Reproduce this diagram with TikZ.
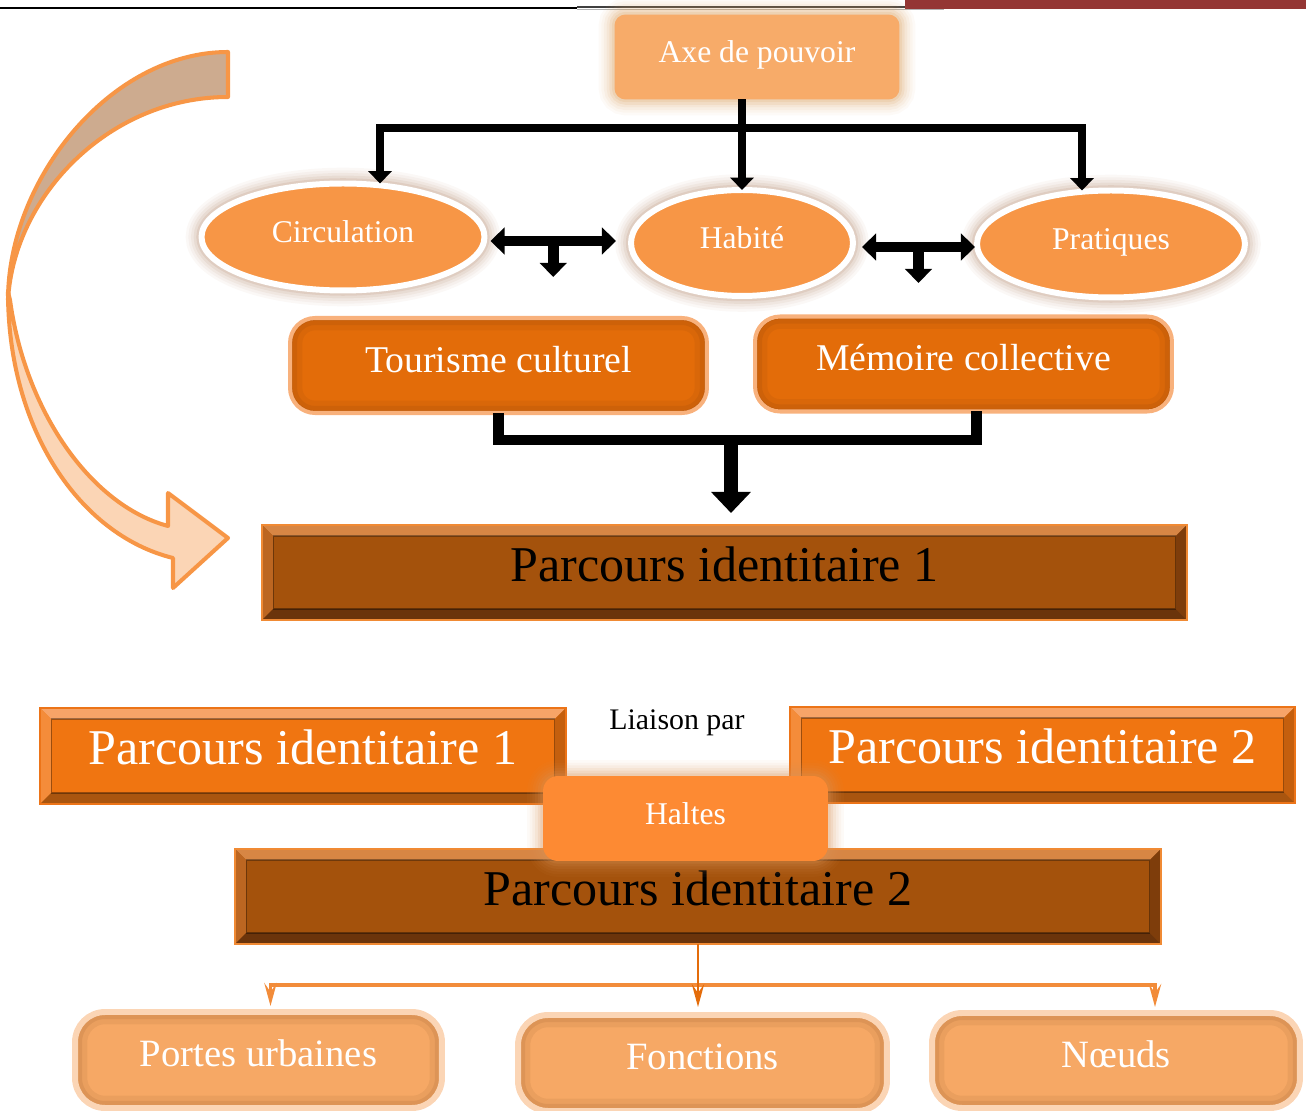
\documentclass[tikz,border=0pt]{standalone}
\usepackage{fontspec}
\setmainfont{Liberation Serif}
\usetikzlibrary{arrows.meta,shapes.geometric,calc}
\definecolor{axefill}{HTML}{F7AB69}
\definecolor{axeglow}{HTML}{D9A060}
\definecolor{ellfill}{HTML}{F79646}
\definecolor{ellglow}{HTML}{A87656}
\definecolor{tourfill}{HTML}{E36C09}
\definecolor{tourbord}{HTML}{F8B17C}
\definecolor{brmain}{HTML}{A4520C}
\definecolor{brtop}{HTML}{D78644}
\definecolor{brleft}{HTML}{BC6621}
\definecolor{brright}{HTML}{7E3D0B}
\definecolor{brbot}{HTML}{6B340B}
\definecolor{brbord}{HTML}{F08A34}
\definecolor{ormain}{HTML}{F07511}
\definecolor{ortop}{HTML}{F7A468}
\definecolor{orleft}{HTML}{F48C3A}
\definecolor{orright}{HTML}{C45F0E}
\definecolor{orbot}{HTML}{A9550F}
\definecolor{orbord}{HTML}{EC7418}
\definecolor{haltfill}{HTML}{FD8A33}
\definecolor{haltglow}{HTML}{D9955A}
\definecolor{botfill}{HTML}{F6A865}
\definecolor{botbord}{HTML}{FBD5B5}
\definecolor{arrtan}{HTML}{CDAB8F}
\definecolor{arrpeach}{HTML}{FBD5B5}
\definecolor{arrline}{HTML}{F79646}
\definecolor{hdrred}{HTML}{943634}
\definecolor{conor}{HTML}{F28C3A}
\definecolor{conord}{HTML}{E46C0A}
\definecolor{shadowbr}{HTML}{5A2E0A}
\tikzset{
  fA/.style={font=\fontsize{18}{20}\selectfont, text height=12.6pt, text depth=6.3pt},
  fB/.style={font=\fontsize{21.5}{24}\selectfont, text height=15pt, text depth=7.5pt},
  fC/.style={font=\fontsize{28.5}{32}\selectfont, text height=20pt, text depth=10pt},
  fD/.style={font=\fontsize{22}{25}\selectfont, text height=15.4pt, text depth=7.7pt},
  fE/.style={font=\fontsize{17}{20}\selectfont, text height=12pt, text depth=6pt},
  glowA/.style={preaction={draw=#1, line width=18pt, opacity=.05},
                preaction={draw=#1, line width=15pt, opacity=.06},
                preaction={draw=#1, line width=12pt, opacity=.08},
                preaction={draw=#1, line width=9pt, opacity=.10},
                preaction={draw=#1, line width=6pt, opacity=.14},
                preaction={draw=#1, line width=3pt, opacity=.18}},
  innershadow/.style={path picture={
      \draw[line width=14pt, shadowbr, opacity=.07, rounded corners=#1]
        (path picture bounding box.north west) rectangle (path picture bounding box.south east);
      \draw[line width=8pt, shadowbr, opacity=.09, rounded corners=#1]
        (path picture bounding box.north west) rectangle (path picture bounding box.south east);
      \draw[line width=3pt, shadowbr, opacity=.12, rounded corners=#1]
        (path picture bounding box.north west) rectangle (path picture bounding box.south east);}},
  axebox/.style={rectangle, rounded corners=0.22cm, fill=axefill, text=white, fA, glowA=axeglow},
  ell/.style={ellipse, fill=ellfill, draw=white, line width=3.4pt, text=white, fA, glowA=ellglow},
  tourbox/.style={rectangle, rounded corners=0.5cm, fill=tourfill, draw=tourbord, line width=2.3pt,
      minimum width=8.34cm, minimum height=1.9cm, text=white, fB, innershadow=0.5cm},
  bevel/.style n args={6}{rectangle, fill=#1, draw=#6, line width=1.5pt,
    path picture={
      \coordinate (bNW) at (path picture bounding box.north west);
      \coordinate (bNE) at (path picture bounding box.north east);
      \coordinate (bSW) at (path picture bounding box.south west);
      \coordinate (bSE) at (path picture bounding box.south east);
      \fill[#2] (bNW) -- (bNE) -- ([shift={(-11,11)}]bNE) -- ([shift={(11,11)}]bNW) -- cycle;
      \fill[#3] (bNW) -- ([shift={(11,11)}]bNW) -- ([shift={(11,-11)}]bSW) -- (bSW) -- cycle;
      \fill[#4] (bNE) -- ([shift={(-11,11)}]bNE) -- ([shift={(-11,-11)}]bSE) -- (bSE) -- cycle;
      \fill[#5] (bSW) -- ([shift={(11,-11)}]bSW) -- ([shift={(-11,-11)}]bSE) -- (bSE) -- cycle;
      \draw[black, opacity=.35, line width=0.6pt] ([shift={(11,11)}]bNW) rectangle ([shift={(-11,-11)}]bSE);
    }},
  brownbox/.style={bevel={brmain}{brtop}{brleft}{brright}{brbot}{brbord}, text=black, fC},
  orangebox/.style={bevel={ormain}{ortop}{orleft}{orright}{orbot}{orbord}, text=white, fC},
  haltbox/.style={rectangle, rounded corners=0.3cm, fill=haltfill, text=white, fA, glowA=haltglow},
  botbox/.style={rectangle, rounded corners=0.6cm, fill=botfill, draw=botbord, line width=3.4pt,
      minimum width=7.34cm, minimum height=1.92cm, text=white, fD, innershadow=0.6cm},
  bkA/.style={line width=4.5pt, black, -{Triangle[width=13pt,length=7pt]}},
  dblA/.style={line width=6pt, black, {Triangle[width=15pt,length=8pt]}-{Triangle[width=15pt,length=8pt]}},
  downA/.style={line width=6pt, black, -{Triangle[width=15pt,length=8pt]}},
  orA/.style={line width=1.6pt, conord, -{Stealth[open, length=13pt, width=7pt, inset=5pt]}},
  orB/.style={line width=2pt, conor, -{Stealth[open, length=13pt, width=7pt, inset=5pt]}},
}
\begin{document}
\begin{tikzpicture}[x=0.02cm, y=-0.02cm, every node/.style={inner sep=0pt, outer sep=0pt}]
\useasboundingbox (0,0) rectangle (1306,1111);
% header rules
\fill[hdrred] (905,0) rectangle (1306,9);
\draw[black, line width=1.5pt] (0,8) -- (577,8);
\draw[black!75, line width=0.6pt] (577,7) -- (905,7);
\draw[gray!60, line width=0.6pt] (577,9.5) -- (944,9.5);
% curved arrow
\filldraw[fill=arrtan, draw=arrline, line width=2.3pt, line join=round]
  (228,52) .. controls (110,52) and (8,180) .. (8,300)
  .. controls (14,195) and (110,97) .. (228,97) -- cycle;
\filldraw[fill=arrpeach, draw=arrline, line width=2.3pt, line join=round]
  (8,292) .. controls (8,430) and (80,535) .. (173,558) -- (173,588) -- (228,538)
  -- (168,493) -- (168,526) .. controls (90,505) and (25,410) .. (10,300) -- cycle;
% top part
\node[axebox, minimum width=5.7cm, minimum height=1.7cm] (axe) at (757,57) {Axe de pouvoir};
\node[ell, minimum width=5.66cm, minimum height=2.14cm] (circ) at (343,237) {Circulation};
\node[ell, minimum width=4.44cm, minimum height=2.12cm] (hab) at (742,243) {Habité};
\node[ell, minimum width=5.36cm, minimum height=2.14cm] (prat) at (1111,244) {Pratiques};
\node[tourbox] (tour) at (498.5,365.5) {Tourisme culturel};
\node[tourbox] (mem) at (963.5,364) {Mémoire collective};
\node[brownbox, minimum width=18.5cm, minimum height=1.9cm] (p1) at (724.5,572.5) {Parcours identitaire 1};
% top connectors
\draw[bkA] (axe.south -| hab.north) -- (hab.north);
\coordinate (jt) at (hab.north |- 0,128);
\draw[bkA] (jt) -| ($(circ.north)+(37,0)$);
\draw[bkA] (jt) -| ($(prat.north)+(-29,0)$);
\draw[dblA] ($(circ.east)+(6,4)$) -- coordinate[midway] (m1) ($(hab.west)+(-15,-2)$);
\draw[downA] (m1) -- ++(0,36);
\draw[dblA] ($(hab.east)+(9,4)$) -- coordinate[midway] (m2) ($(prat.west)+(-2,3)$);
\draw[downA] (m2) -- ++(0,36);
\draw[line width=6pt, black, line join=miter] (tour.south) -- ++(0,27) -| ($(mem.south)+(13,0)$);
\coordinate (jb) at ($(tour.south)!0.5!(mem.south)+(0,27)$);
\draw[line width=8pt, black, -{Triangle[width=22pt,length=12pt]}] (jb) -- ($(jb |- p1.north)+(0,-12)$);
% bottom part
\node[orangebox, minimum width=10.52cm, minimum height=1.92cm] (p1w) at (303,756) {Parcours identitaire 1};
\node[orangebox, minimum width=10.1cm, minimum height=1.92cm] (p2w) at (1042.5,755) {Parcours identitaire 2};
\node[fE, text=black] (lia) at (677,724) {Liaison par};
\node[brownbox, minimum width=18.52cm, minimum height=1.9cm] (p2) at (698,896.5) {Parcours identitaire 2};
\node[haltbox, minimum width=5.7cm, minimum height=1.7cm] (hal) at (685.5,818.5) {Haltes};
\node[botbox] (por) at (258.5,1060) {Portes urbaines};
\node[botbox, minimum width=7.38cm] (fon) at (702.5,1063) {Fonctions};
\node[botbox, minimum width=7.36cm, minimum height=1.9cm] (noe) at (1116,1060.5) {Nœuds};
% bottom connectors
\coordinate (jo) at (p2.south |- 0,985);
\draw[orB] (jo) -| ($(por.north)+(12,-6)$);
\draw[orB] (jo) -| ($(noe.north)+(39,-6)$);
\draw[orA] (p2.south) -- ($(p2.south |- fon.north)+(0,-8)$);
\end{tikzpicture}
\end{document}
